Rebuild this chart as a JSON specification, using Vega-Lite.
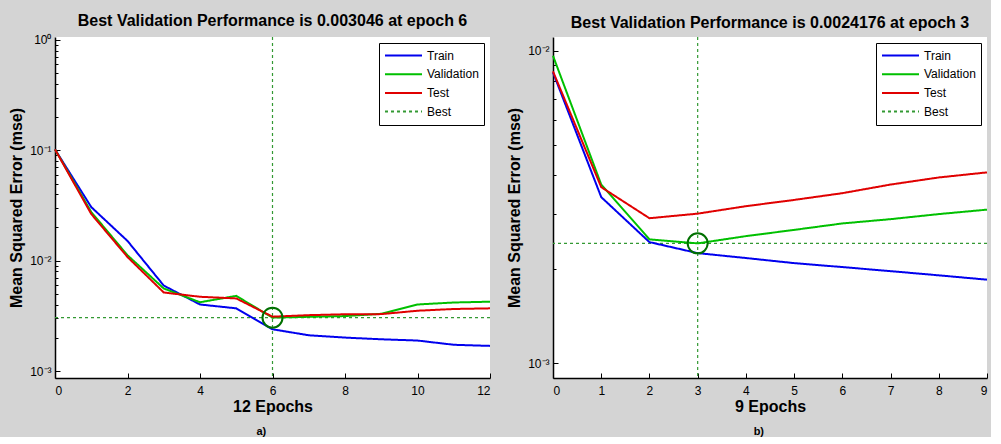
{
  "$schema": "https://vega.github.io/schema/vega-lite/v6.json",
  "background": "#d4d4d4",
  "padding": {"left": 8, "top": 12, "right": 0, "bottom": 0},
  "spacing": 12,
  "resolve": {
    "scale": {"x": "independent", "y": "independent", "color": "independent", "strokeDash": "independent"},
    "legend": {"color": "independent", "strokeDash": "independent"}
  },
  "config": {
    "font": "Liberation Sans",
    "view": {"stroke": null, "fill": "white"},
    "axis": {
      "domainColor": "black", "domainWidth": 1.5,
      "tickColor": "black", "tickWidth": 1,
      "labelFont": "Liberation Sans", "labelFontSize": 12, "labelColor": "black",
      "titleFont": "Liberation Sans", "titleFontSize": 16, "titleFontWeight": "bold", "titleColor": "black",
      "grid": false
    },
    "legend": {
      "orient": "top-right", "offset": 6, "fillColor": "white", "strokeColor": "black",
      "padding": 5, "symbolType": "stroke", "symbolSize": 1369, "symbolStrokeWidth": 2,
      "labelFont": "Liberation Sans", "labelFontSize": 12, "labelColor": "black",
      "clipHeight": 15, "rowPadding": 3.7, "title": null
    }
  },
  "datasets": {
    "a": [
      {"epoch": 0, "mse": 0.102, "series": "Train"},
      {"epoch": 1, "mse": 0.0306, "series": "Train"},
      {"epoch": 2, "mse": 0.0151, "series": "Train"},
      {"epoch": 3, "mse": 0.00595, "series": "Train"},
      {"epoch": 4, "mse": 0.00401, "series": "Train"},
      {"epoch": 5, "mse": 0.0037, "series": "Train"},
      {"epoch": 6, "mse": 0.00239, "series": "Train"},
      {"epoch": 7, "mse": 0.00211, "series": "Train"},
      {"epoch": 8, "mse": 0.00201, "series": "Train"},
      {"epoch": 9, "mse": 0.00194, "series": "Train"},
      {"epoch": 10, "mse": 0.00189, "series": "Train"},
      {"epoch": 11, "mse": 0.00173, "series": "Train"},
      {"epoch": 12, "mse": 0.00169, "series": "Train"},
      {"epoch": 0, "mse": 0.102, "series": "Validation"},
      {"epoch": 1, "mse": 0.0276, "series": "Validation"},
      {"epoch": 2, "mse": 0.0112, "series": "Validation"},
      {"epoch": 3, "mse": 0.0056, "series": "Validation"},
      {"epoch": 4, "mse": 0.0042, "series": "Validation"},
      {"epoch": 5, "mse": 0.0048, "series": "Validation"},
      {"epoch": 6, "mse": 0.003046, "series": "Validation"},
      {"epoch": 7, "mse": 0.0031, "series": "Validation"},
      {"epoch": 8, "mse": 0.00315, "series": "Validation"},
      {"epoch": 9, "mse": 0.0033, "series": "Validation"},
      {"epoch": 10, "mse": 0.00401, "series": "Validation"},
      {"epoch": 11, "mse": 0.00418, "series": "Validation"},
      {"epoch": 12, "mse": 0.00425, "series": "Validation"},
      {"epoch": 0, "mse": 0.102, "series": "Test"},
      {"epoch": 1, "mse": 0.0265, "series": "Test"},
      {"epoch": 2, "mse": 0.0108, "series": "Test"},
      {"epoch": 3, "mse": 0.00515, "series": "Test"},
      {"epoch": 4, "mse": 0.00471, "series": "Test"},
      {"epoch": 5, "mse": 0.00455, "series": "Test"},
      {"epoch": 6, "mse": 0.00311, "series": "Test"},
      {"epoch": 7, "mse": 0.00321, "series": "Test"},
      {"epoch": 8, "mse": 0.00327, "series": "Test"},
      {"epoch": 9, "mse": 0.00328, "series": "Test"},
      {"epoch": 10, "mse": 0.00352, "series": "Test"},
      {"epoch": 11, "mse": 0.00365, "series": "Test"},
      {"epoch": 12, "mse": 0.0037, "series": "Test"}
    ],
    "b": [
      {"epoch": 0, "mse": 0.00853, "series": "Train"},
      {"epoch": 1, "mse": 0.0034, "series": "Train"},
      {"epoch": 2, "mse": 0.00244, "series": "Train"},
      {"epoch": 3, "mse": 0.00225, "series": "Train"},
      {"epoch": 4, "mse": 0.00217, "series": "Train"},
      {"epoch": 5, "mse": 0.00209, "series": "Train"},
      {"epoch": 6, "mse": 0.00203, "series": "Train"},
      {"epoch": 7, "mse": 0.00197, "series": "Train"},
      {"epoch": 8, "mse": 0.00191, "series": "Train"},
      {"epoch": 9, "mse": 0.00185, "series": "Train"},
      {"epoch": 0, "mse": 0.00964, "series": "Validation"},
      {"epoch": 1, "mse": 0.00373, "series": "Validation"},
      {"epoch": 2, "mse": 0.00249, "series": "Validation"},
      {"epoch": 3, "mse": 0.0024176, "series": "Validation"},
      {"epoch": 4, "mse": 0.00255, "series": "Validation"},
      {"epoch": 5, "mse": 0.00267, "series": "Validation"},
      {"epoch": 6, "mse": 0.0028, "series": "Validation"},
      {"epoch": 7, "mse": 0.00289, "series": "Validation"},
      {"epoch": 8, "mse": 0.003, "series": "Validation"},
      {"epoch": 9, "mse": 0.0031, "series": "Validation"},
      {"epoch": 0, "mse": 0.00859, "series": "Test"},
      {"epoch": 1, "mse": 0.00366, "series": "Test"},
      {"epoch": 2, "mse": 0.00291, "series": "Test"},
      {"epoch": 3, "mse": 0.00301, "series": "Test"},
      {"epoch": 4, "mse": 0.00318, "series": "Test"},
      {"epoch": 5, "mse": 0.00333, "series": "Test"},
      {"epoch": 6, "mse": 0.0035, "series": "Test"},
      {"epoch": 7, "mse": 0.00373, "series": "Test"},
      {"epoch": 8, "mse": 0.00393, "series": "Test"},
      {"epoch": 9, "mse": 0.00408, "series": "Test"}
    ]
  },
  "hconcat": [
    {
      "title": {"text": "a)", "orient": "bottom", "anchor": "middle", "fontSize": 11, "fontWeight": "bold", "font": "Liberation Sans", "color": "black", "offset": 12, "dx": 10},
      "resolve": {
        "scale": {"x": "independent", "y": "independent", "color": "independent", "strokeDash": "independent"},
        "legend": {"color": "independent", "strokeDash": "independent"}
      },
      "vconcat": [
        {
          "width": 435, "height": 341,
          "title": {"text": "Best Validation Performance is 0.003046 at epoch 6", "fontSize": 16, "fontWeight": "bold", "font": "Liberation Sans", "color": "black", "offset": 5},
          "encoding": {
            "x": {"field": "epoch", "type": "quantitative", "scale": {"domain": [0, 12], "nice": false, "zero": false},
                  "axis": {"title": "12 Epochs", "values": [0, 2, 4, 6, 8, 10, 12], "tickSize": -5, "labelPadding": 12, "titlePadding": 2}},
            "y": {"field": "mse", "type": "quantitative", "scale": {"type": "log", "domain": [0.000865, 1.064], "nice": false},
                  "axis": {"title": "Mean Squared Error  (mse)",
                           "values": [0.001, 0.002, 0.003, 0.004, 0.005, 0.006, 0.007, 0.008, 0.009, 0.01, 0.02, 0.03, 0.04, 0.05, 0.06, 0.07, 0.08, 0.09, 0.1, 0.2, 0.3, 0.4, 0.5, 0.6, 0.7, 0.8, 0.9, 1],
                           "labelExpr": "datum.value == 1 ? '10⁰' : datum.value == 0.1 ? '10⁻¹' : datum.value == 0.01 ? '10⁻²' : datum.value == 0.001 ? '10⁻³' : ''",
                           "tickSize": {"condition": {"test": "datum.value == 1 || datum.value == 0.1 || datum.value == 0.01 || datum.value == 0.001", "value": -5}, "value": -3},
                           "labelPadding": 9, "titlePadding": 5}},
            "color": {"field": "series", "type": "nominal", "scale": {"domain": ["Train", "Validation", "Test", "Best"], "range": ["#0000ee", "#00c000", "#e00000", "#339933"]}},
            "strokeDash": {"field": "series", "type": "nominal", "scale": {"domain": ["Train", "Validation", "Test", "Best"], "range": [[1, 0], [1, 0], [1, 0], [3, 3]]}}
          },
          "layer": [
            {"data": {"values": [{"series": "Best", "epoch": 6}]}, "mark": {"type": "rule", "strokeWidth": 1.2},
             "encoding": {"y": null}},
            {"data": {"values": [{"series": "Best", "mse": 0.003046}]}, "mark": {"type": "rule", "strokeWidth": 1.2},
             "encoding": {"x": null}},
            {"data": {"name": "a"}, "mark": {"type": "line", "strokeWidth": 2}},
            {"data": {"values": [{"epoch": 6, "mse": 0.003046}]}, "mark": {"type": "point", "shape": "circle", "size": 400, "filled": false, "stroke": "#007000", "strokeWidth": 2, "opacity": 1},
             "encoding": {"color": null, "strokeDash": null}}
          ]
        }
      ]
    },
    {
      "title": {"text": "b)", "orient": "bottom", "anchor": "middle", "fontSize": 11, "fontWeight": "bold", "font": "Liberation Sans", "color": "black", "offset": 12, "dx": 10},
      "resolve": {
        "scale": {"x": "independent", "y": "independent", "color": "independent", "strokeDash": "independent"},
        "legend": {"color": "independent", "strokeDash": "independent"}
      },
      "vconcat": [
        {
          "width": 434, "height": 341,
          "title": {"text": "Best Validation Performance is 0.0024176 at epoch 3", "fontSize": 16, "fontWeight": "bold", "font": "Liberation Sans", "color": "black", "offset": 5},
          "encoding": {
            "x": {"field": "epoch", "type": "quantitative", "scale": {"domain": [0, 9], "nice": false, "zero": false},
                  "axis": {"title": "9 Epochs", "values": [0, 1, 2, 3, 4, 5, 6, 7, 8, 9], "tickSize": -5, "labelPadding": 12, "titlePadding": 2}},
            "y": {"field": "mse", "type": "quantitative", "scale": {"type": "log", "domain": [0.000896, 0.01107], "nice": false},
                  "axis": {"title": "Mean Squared Error  (mse)",
                           "values": [0.001, 0.002, 0.003, 0.004, 0.005, 0.006, 0.007, 0.008, 0.009, 0.01],
                           "labelExpr": "datum.value == 0.01 ? '10⁻²' : datum.value == 0.001 ? '10⁻³' : ''",
                           "tickSize": {"condition": {"test": "datum.value == 0.01 || datum.value == 0.001", "value": -5}, "value": -3},
                           "labelPadding": 9, "titlePadding": 5}},
            "color": {"field": "series", "type": "nominal", "scale": {"domain": ["Train", "Validation", "Test", "Best"], "range": ["#0000ee", "#00c000", "#e00000", "#339933"]}},
            "strokeDash": {"field": "series", "type": "nominal", "scale": {"domain": ["Train", "Validation", "Test", "Best"], "range": [[1, 0], [1, 0], [1, 0], [3, 3]]}}
          },
          "layer": [
            {"data": {"values": [{"series": "Best", "epoch": 3}]}, "mark": {"type": "rule", "strokeWidth": 1.2},
             "encoding": {"y": null}},
            {"data": {"values": [{"series": "Best", "mse": 0.0024176}]}, "mark": {"type": "rule", "strokeWidth": 1.2},
             "encoding": {"x": null}},
            {"data": {"name": "b"}, "mark": {"type": "line", "strokeWidth": 2}},
            {"data": {"values": [{"epoch": 3, "mse": 0.0024176}]}, "mark": {"type": "point", "shape": "circle", "size": 400, "filled": false, "stroke": "#007000", "strokeWidth": 2, "opacity": 1},
             "encoding": {"color": null, "strokeDash": null}}
          ]
        }
      ]
    }
  ]
}
